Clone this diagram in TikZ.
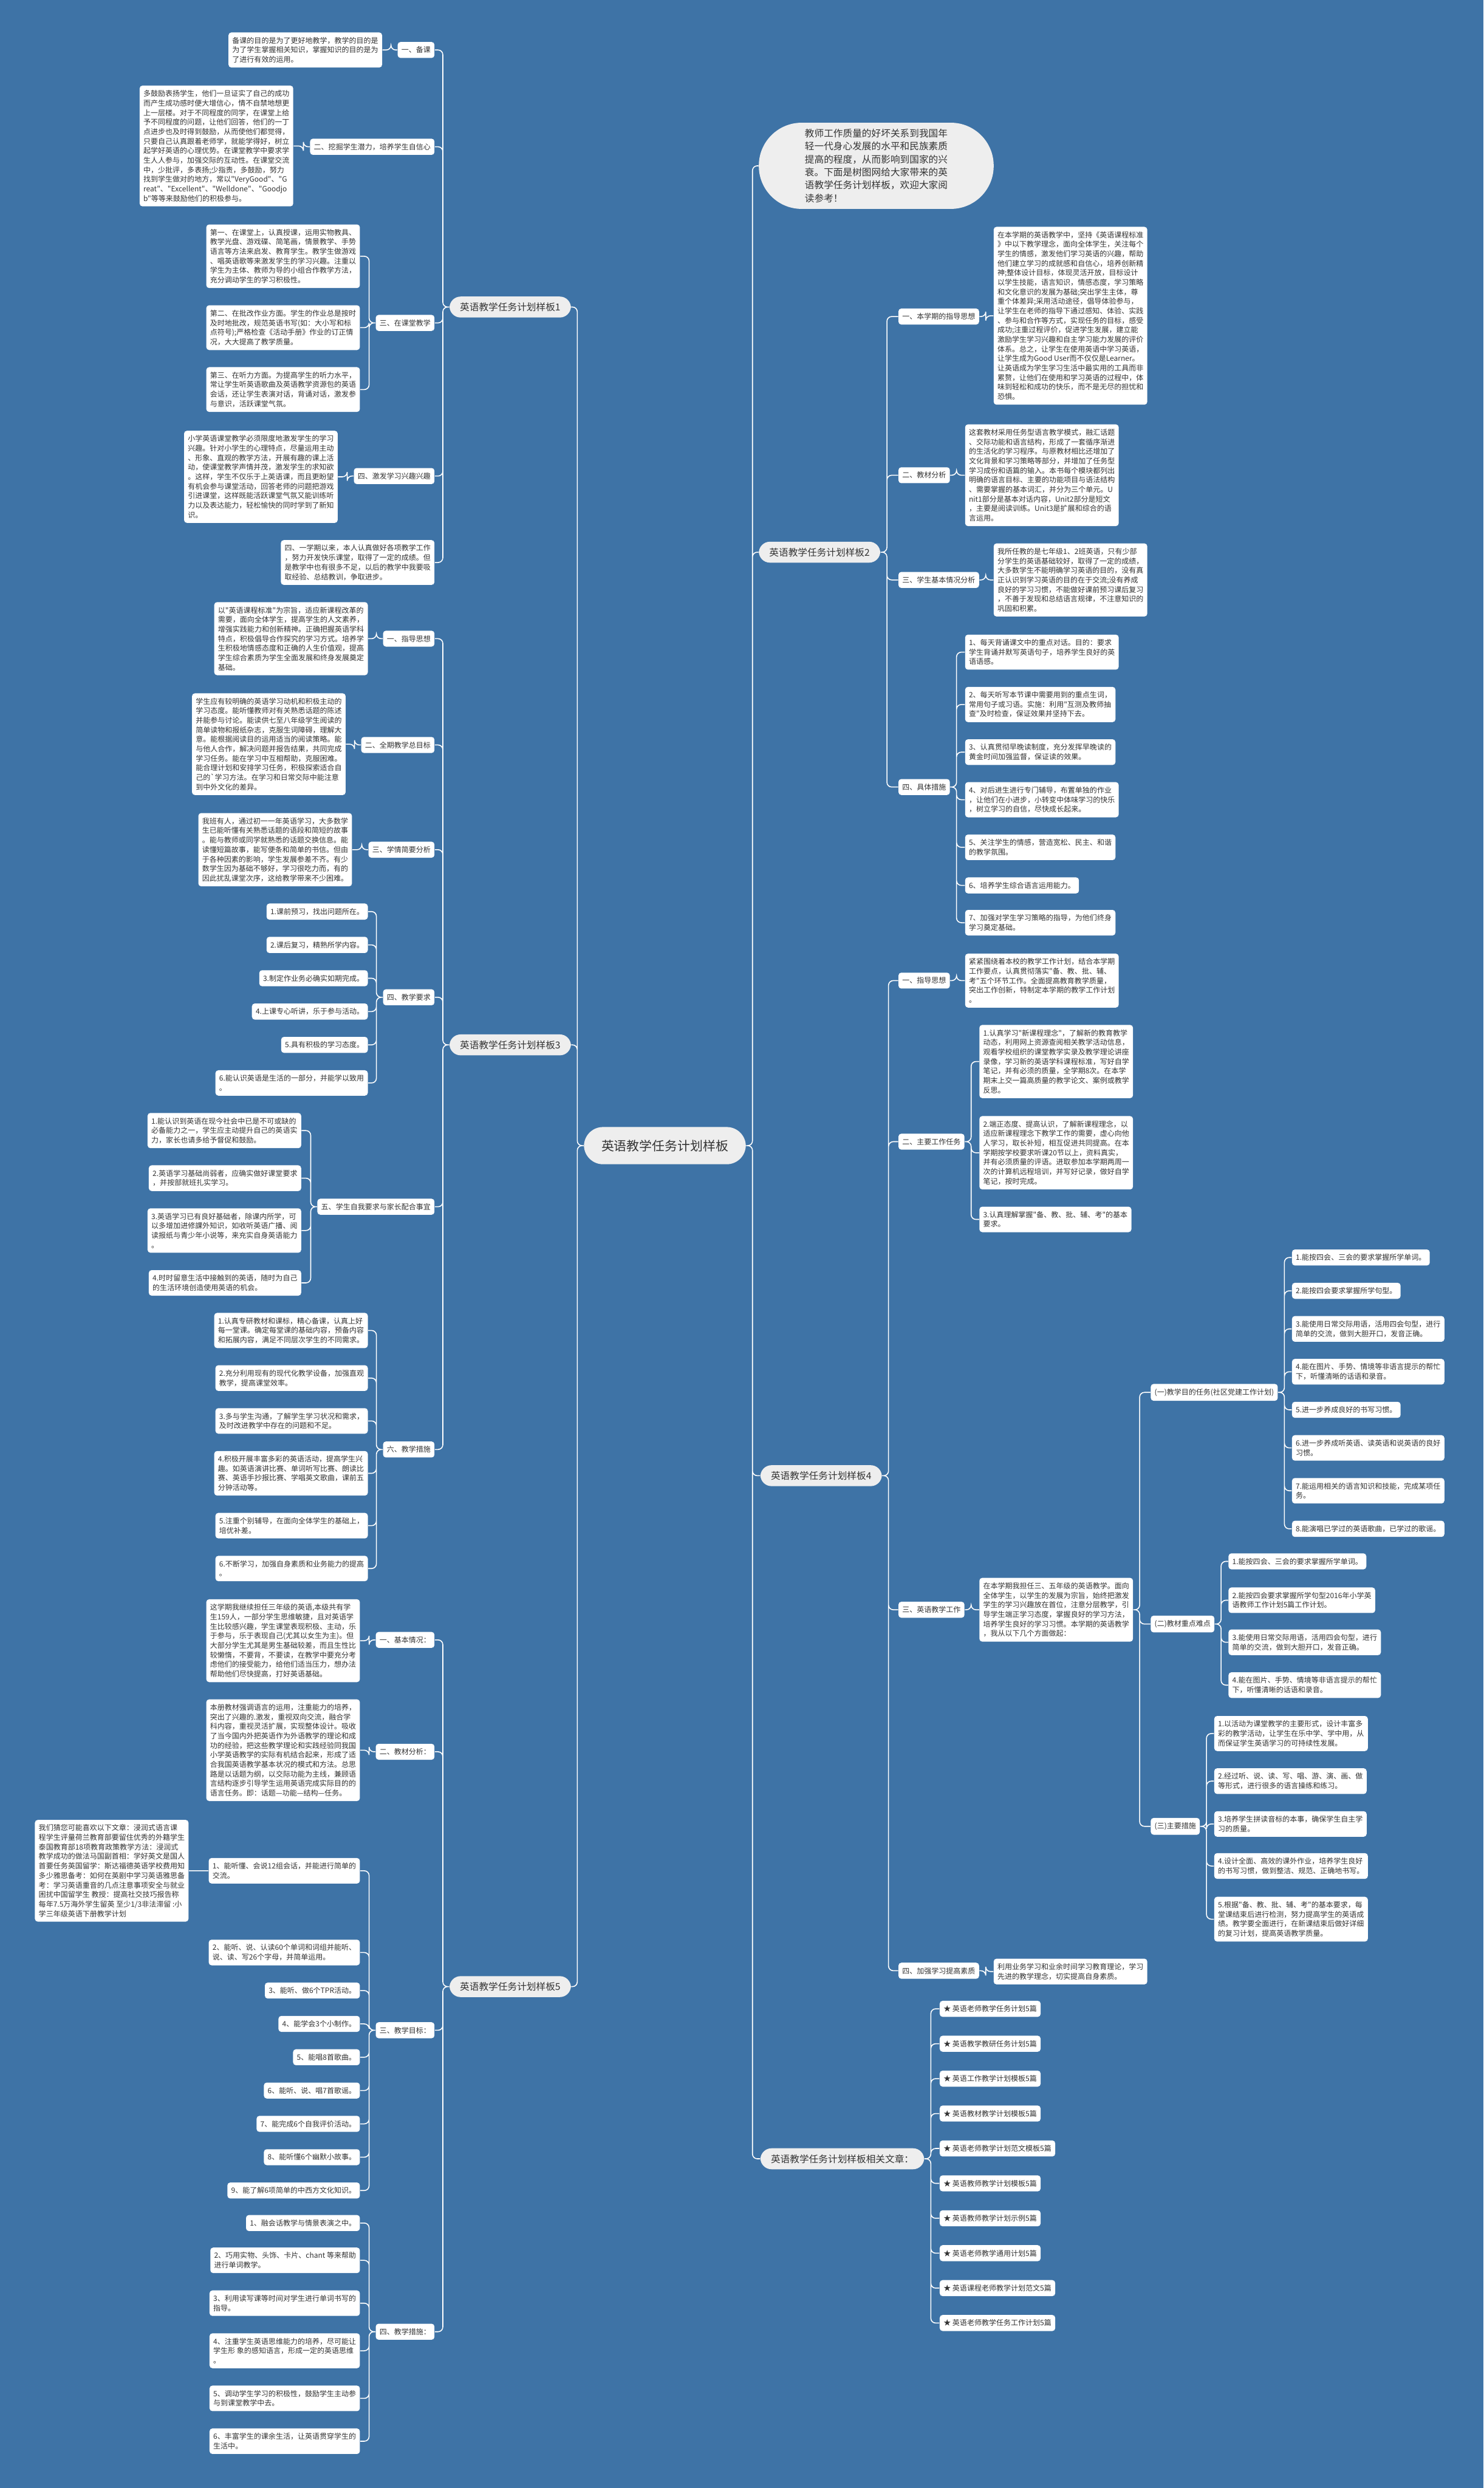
\documentclass[tikz,border=0pt]{standalone}
\usepackage{fontspec}
\setmainfont{Noto Sans CJK SC}[Ligatures=TeXOff]
\definecolor{bgblue}{RGB}{62,115,166}
\definecolor{ink}{RGB}{51,51,51}
\definecolor{pillgray}{RGB}{238,238,238}

\begin{document}
\begin{tikzpicture}[x=1pt,y=-1pt]
  \tikzset{
    box/.style={fill=white,rounded corners=1.8pt,align=left,text=ink,
      font=\fontsize{4.6}{6}\selectfont,inner xsep=2.4pt,inner ysep=2.9pt},
    plan/.style={fill=pillgray,rounded corners=7pt,text=ink,
      font=\fontsize{6}{7.2}\selectfont,inner xsep=6.6pt,inner ysep=3.8pt},
    hub/.style={fill=pillgray,rounded corners=12pt,text=ink,
      font=\fontsize{8}{9.6}\selectfont,inner xsep=11pt,inner ysep=8pt},
    intro/.style={fill=pillgray,rounded corners=27pt,text=ink,align=left,
      font=\fontsize{6}{8.15}\selectfont,inner xsep=29pt,inner ysep=4pt},
    edgeln/.style={draw=white,line width=0.6pt,rounded corners=3pt},
    lnkl/.style={to path={-- ++(-4pt,0) |- (\tikztotarget)}},
    lnkr/.style={to path={-- ++(4pt,0) |- (\tikztotarget)}}
  }
  \fill[bgblue] (0,0) rectangle (935,1568);

  \node[hub] (hub) at (419,722) {英语教学任务计划样板};

  \node[intro,anchor=west] (intro) at (478,104.5) {教师工作质量的好坏关系到我国年\\轻一代身心发展的水平和民族素质\\提高的程度，从而影响到国家的兴\\衰。下面是树图网给大家带来的英\\语教学任务计划样板，欢迎大家阅\\读参考！};
  \node[plan,anchor=east] (plan1) at (360,193.5) {英语教学任务计划样板1};
  \node[plan,anchor=west] (plan2) at (478,348) {英语教学任务计划样板2};
  \node[plan,anchor=east] (plan3) at (360,658.5) {英语教学任务计划样板3};
  \node[plan,anchor=west] (plan4) at (479,930) {英语教学任务计划样板4};
  \node[plan,anchor=east] (plan5) at (360,1252) {英语教学任务计划样板5};
  \node[plan,anchor=west] (rel) at (479,1360.5) {英语教学任务计划样板相关文章：};

  \node[box,anchor=east] (p1a) at (274,31.5) {一、备课};
  \node[box,anchor=east] (p1a1) at (241,31.5) {备课的目的是为了更好地教学，教学的目的是\\为了学生掌握相关知识，掌握知识的目的是为\\了进行有效的运用。};
  \node[box,anchor=east] (p1b) at (274,92.5) {二、挖掘学生潜力，培养学生自信心};
  \node[box,anchor=east] (p1b1) at (185,92) {多鼓励表扬学生，他们一旦证实了自己的成功\\而产生成功感时便大增信心，情不自禁地想更\\上一层楼。对于不同程度的同学，在课堂上给\\予不同程度的问题，让他们回答，他们的一丁\\点进步也及时得到鼓励，从而使他们都觉得，\\只要自己认真跟着老师学，就能学得好，树立\\起学好英语的心理优势。在课堂教学中要求学\\生人人参与，加强交际的互动性。在课堂交流\\中，少批评，多表扬;少指责，多鼓励，努力\\找到学生做对的地方，常以"VeryGood"、"G\\reat"、"Excellent"、"Welldone"、"Goodjo\\b"等等来鼓励他们的积极参与。};
  \node[box,anchor=east] (p1c) at (274,203.5) {三、在课堂教学};
  \node[box,anchor=east] (p1c1) at (227,161.5) {第一、在课堂上，认真授课，运用实物教具、\\教学光盘、游戏碟、简笔画，情景教学、手势\\语言等方法来启发、教育学生。教学生做游戏\\、唱英语歌等来激发学生的学习兴趣。注重以\\学生为主体、教师为导的小组合作教学方法，\\充分调动学生的学习积极性。};
  \node[box,anchor=east] (p1c2) at (227,206.5) {第二、在批改作业方面。学生的作业总是按时\\及时地批改，规范英语书写(如：大小写和标\\点符号);严格检查《活动手册》作业的订正情\\况，大大提高了教学质量。};
  \node[box,anchor=east] (p1c3) at (227,245.5) {第三、在听力方面。为提高学生的听力水平，\\常让学生听英语歌曲及英语教学资源包的英语\\会话，还让学生表演对话，背诵对话，激发参\\与意识，活跃课堂气氛。};
  \node[box,anchor=east] (p1d) at (274,300) {四、激发学习兴趣兴趣};
  \node[box,anchor=east] (p1d1) at (213,300.5) {小学英语课堂教学必须限度地激发学生的学习\\兴趣。针对小学生的心理特点，尽量运用主动\\、形象、直观的教学方法，开展有趣的课上活\\动，使课堂教学声情并茂，激发学生的求知欲\\。这样，学生不仅乐于上英语课，而且更盼望\\有机会参与课堂活动，回答老师的问题把游戏\\引进课堂，这样既能活跃课堂气氛又能训练听\\力以及表达能力，轻松愉快的同时学到了新知\\识。};
  \node[box,anchor=east] (p1e) at (274,354.5) {四、一学期以来，本人认真做好各项教学工作\\，努力开发快乐课堂，取得了一定的成绩。但\\是教学中也有很多不足，以后的教学中我要吸\\取经验、总结教训，争取进步。};

  \node[box,anchor=east] (p3a) at (274,402.5) {一、指导思想};
  \node[box,anchor=east] (p3a1) at (232,402.5) {以"英语课程标准"为宗旨，适应新课程改革的\\需要，面向全体学生，提高学生的人文素养，\\增强实践能力和创新精神。正确把握英语学科\\特点，积极倡导合作探究的学习方式。培养学\\生积极地情感态度和正确的人生价值观，提高\\学生综合素质为学生全面发展和终身发展奠定\\基础。};
  \node[box,anchor=east] (p3b) at (274,469.5) {二、全期教学总目标};
  \node[box,anchor=east] (p3b1) at (218,469) {学生应有较明确的英语学习动机和积极主动的\\学习态度。能听懂教师对有关熟悉话题的陈述\\并能参与讨论。能读供七至八年级学生阅读的\\简单读物和报纸杂志，克服生词障碍，理解大\\意。能根据阅读目的运用适当的阅读策略。能\\与他人合作，解决问题并报告结果，共同完成\\学习任务。能在学习中互相帮助，克服困难。\\能合理计划和安排学习任务，积极探索适合自\\己的\textasciigrave 学习方法。在学习和日常交际中能注意\\到中外文化的差异。};
  \node[box,anchor=east] (p3c) at (274,535.5) {三、学情简要分析};
  \node[box,anchor=east] (p3c1) at (222,535.5) {我班有人，通过初一一年英语学习，大多数学\\生已能听懂有关熟悉话题的语段和简短的故事\\。能与教师或同学就熟悉的话题交换信息。能\\读懂短篇故事，能写便条和简单的书信。但由\\于各种因素的影响，学生发展参差不齐。有少\\数学生因为基础不够好，学习很吃力而，有的\\因此扰乱课堂次序，这给教学带来不少困难。};
  \node[box,anchor=east] (p3d) at (274,628.5) {四、教学要求};
  \node[box,anchor=east] (p3d1) at (232,574.5) {1.课前预习，找出问题所在。};
  \node[box,anchor=east] (p3d2) at (232,595.5) {2.课后复习，精熟所学内容。};
  \node[box,anchor=east] (p3d3) at (232,616.5) {3.制定作业务必确实如期完成。};
  \node[box,anchor=east] (p3d4) at (232,637.5) {4.上课专心听讲，乐于参与活动。};
  \node[box,anchor=east] (p3d5) at (232,658.5) {5.具有积极的学习态度。};
  \node[box,anchor=east] (p3d6) at (232,682.5) {6.能认识英语是生活的一部分，并能学以致用\\。};
  \node[box,anchor=east] (p3e) at (274,760.5) {五、学生自我要求与家长配合事宜};
  \node[box,anchor=east] (p3e1) at (190,712.5) {1.能认识到英语在现今社会中已是不可或缺的\\必备能力之一，学生应主动提升自己的英语实\\力，家长也请多给予督促和鼓励。};
  \node[box,anchor=east] (p3e2) at (190,742.5) {2.英语学习基础尚弱者，应确实做好课堂要求\\，并按部就班扎实学习。};
  \node[box,anchor=east] (p3e3) at (190,775.5) {3.英语学习已有良好基础者，除课内所学，可\\以多增加进修課外知识，如收听英语广播、阅\\读报纸与青少年小说等，来充实自身英语能力\\。};
  \node[box,anchor=east] (p3e4) at (190,808.5) {4.时时留意生活中接触到的英语，随时为自己\\的生活环境创造使用英语的机会。};
  \node[box,anchor=east] (p3f) at (274,913.5) {六、教学措施};
  \node[box,anchor=east] (p3f1) at (232,838.5) {1.认真专研教材和课标，精心备课，认真上好\\每一堂课。确定每堂课的基础内容，预备内容\\和拓展内容，满足不同层次学生的不同需求。};
  \node[box,anchor=east] (p3f2) at (232,868.5) {2.充分利用现有的现代化教学设备，加强直观\\教学，提高课堂效率。};
  \node[box,anchor=east] (p3f3) at (232,895.5) {3.多与学生沟通，了解学生学习状况和需求，\\及时改进教学中存在的问题和不足。};
  \node[box,anchor=east] (p3f4) at (232,928.5) {4.积极开展丰富多彩的英语活动，提高学生兴\\趣。如英语演讲比赛、单词听写比赛、朗读比\\赛、英语手抄报比赛、学唱英文歌曲，课前五\\分钟活动等。};
  \node[box,anchor=east] (p3f5) at (232,961.5) {5.注重个别辅导，在面向全体学生的基础上，\\培优补差。};
  \node[box,anchor=east] (p3f6) at (232,988.5) {6.不断学习，加强自身素质和业务能力的提高\\。};

  \node[box,anchor=east] (p5a) at (274,1033.5) {一、基本情况：};
  \node[box,anchor=east] (p5a1) at (227,1034) {这学期我继续担任三年级的英语,本级共有学\\生159人，一部分学生思维敏捷，且对英语学\\生比较感兴趣，学生课堂表现积极、主动，乐\\于参与，乐于表现自己(尤其以女生为主)。但\\大部分学生尤其是男生基础较差，而且生性比\\较懒惰，不要背，不要读，在教学中要充分考\\虑他们的接受能力，给他们适当压力，想办法\\帮助他们尽快提高，打好英语基础。};
  \node[box,anchor=east] (p5b) at (274,1104) {二、教材分析：};
  \node[box,anchor=east] (p5b1) at (227,1103) {本册教材强调语言的运用，注重能力的培养，\\突出了兴趣的.激发，重视双向交流，融合学\\科内容，重视灵活扩展，实现整体设计。吸收\\了当今国内外把英语作为外语教学的理论和成\\功的经验，把这些教学理论和实践经验同我国\\小学英语教学的实际有机结合起来，形成了适\\合我国英语教学基本状况的模式和方法。总思\\路是以话题为纲，以交际功能为主线，兼顾语\\言结构逐步引导学生运用英语完成实际目的的\\语言任务。即：话题—功能—结构—任务。};
  \node[box,anchor=east] (p5c) at (274,1279.5) {三、教学目标：};
  \node[box,anchor=east] (p5c1) at (227,1179) {1、能听懂、会说12组会话，并能进行简单的\\交流。};
  \node[box,anchor=east] (p5c2) at (227,1230.5) {2、能听、说、认读60个单词和词组并能听、\\说、读、写26个字母，并简单运用。};
  \node[box,anchor=east] (p5c3) at (227,1254.5) {3、能听、做6个TPR活动。};
  \node[box,anchor=east] (p5c4) at (227,1275.5) {4、能学会3个小制作。};
  \node[box,anchor=east] (p5c5) at (227,1296.5) {5、能唱8首歌曲。};
  \node[box,anchor=east] (p5c6) at (227,1317.5) {6、能听、说、唱7首歌谣。};
  \node[box,anchor=east] (p5c7) at (227,1338.5) {7、能完成6个自我评价活动。};
  \node[box,anchor=east] (p5c8) at (227,1359.5) {8、能听懂6个幽默小故事。};
  \node[box,anchor=east] (p5c9) at (227,1380.5) {9、能了解6项简单的中西方文化知识。};
  \node[box,anchor=east] (p5x) at (119,1179) {我们猜您可能喜欢以下文章：浸润式语言课\\程学生评量荷兰教育部要留住优秀的外籍学生\\泰国教育部18项教育政策教学方法：浸润式\\教学成功的做法马国副首相：学好英文是国人\\首要任务英国留学：斯达福德英语学校费用知\\多少雅思备考：如何在英剧中学习英语雅思备\\考：学习英语重音的几点注意事项安全与就业\\困扰中国留学生 教授：提高社交技巧报告称\\每年7.5万海外学生留英 至少1/3非法滞留 :小\\学三年级英语下册教学计划};
  \node[box,anchor=east] (p5d) at (274,1469.5) {四、教学措施：};
  \node[box,anchor=east] (p5d1) at (227,1401) {1、融会话教学与情景表演之中。};
  \node[box,anchor=east] (p5d2) at (227,1424.5) {2、巧用实物、头饰、卡片、chant 等来帮助\\进行单词教学。};
  \node[box,anchor=east] (p5d3) at (227,1451.5) {3、利用读写课等时间对学生进行单词书写的\\指导。};
  \node[box,anchor=east] (p5d4) at (227,1481.5) {4、注重学生英语思维能力的培养，尽可能让\\学生形 象的感知语言，形成一定的英语思维\\。};
  \node[box,anchor=east] (p5d5) at (227,1511.5) {5、调动学生学习的积极性，鼓励学生主动参\\与到课堂教学中去。};
  \node[box,anchor=east] (p5d6) at (227,1538.5) {6、丰富学生的课余生活，让英语贯穿学生的\\生活中。};

  \node[box,anchor=west] (p2a) at (566,199.5) {一、本学期的指导思想};
  \node[box,anchor=west] (p2a1) at (626,199) {在本学期的英语教学中，坚持《英语课程标准\\》中以下教学理念，面向全体学生，关注每个\\学生的情感，激发他们学习英语的兴趣，帮助\\他们建立学习的成就感和自信心，培养创新精\\神;整体设计目标，体现灵活开放，目标设计\\以学生技能，语言知识，情感态度，学习策略\\和文化意识的发展为基础;突出学生主体，尊\\重个体差异;采用活动途径，倡导体验参与，\\让学生在老师的指导下通过感知、体验、实践\\、参与和合作等方式，实现任务的目标，感受\\成功;注重过程评价，促进学生发展，建立能\\激励学生学习兴趣和自主学习能力发展的评价\\体系。总之，让学生在使用英语中学习英语，\\让学生成为Good User而不仅仅是Learner。\\让英语成为学生学习生活中最实用的工具而非\\累赘，让他们在使用和学习英语的过程中，体\\味到轻松和成功的快乐，而不是无尽的担忧和\\恐惧。};
  \node[box,anchor=west] (p2b) at (566,299.5) {二、教材分析};
  \node[box,anchor=west] (p2b1) at (608,299.5) {这套教材采用任务型语言教学模式，融汇话题\\、交际功能和语言结构，形成了一套循序渐进\\的生活化的学习程序。与原教材相比还增加了\\文化背景和学习策略等部分，并增加了任务型\\学习成份和语篇的输入。本书每个模块都列出\\明确的语言目标、主要的功能项目与语法结构\\、需要掌握的基本词汇，并分为三个单元。U\\nit1部分是基本对话内容，Unit2部分是短文\\，主要是阅读训练。Unit3是扩展和综合的语\\言运用。};
  \node[box,anchor=west] (p2c) at (566,365.5) {三、学生基本情况分析};
  \node[box,anchor=west] (p2c1) at (626,365.5) {我所任教的是七年级1、2班英语，只有少部\\分学生的英语基础较好，取得了一定的成绩，\\大多数学生不能明确学习英语的目的，没有真\\正认识到学习英语的目的在于交流;没有养成\\良好的学习习惯，不能做好课前预习课后复习\\，不善于发现和总结语言规律，不注意知识的\\巩固和积累。};
  \node[box,anchor=west] (p2d) at (566,496) {四、具体措施};
  \node[box,anchor=west] (p2d1) at (608,411) {1、每天背诵课文中的重点对话。目的：要求\\学生背诵并默写英语句子，培养学生良好的英\\语语感。};
  \node[box,anchor=west] (p2d2) at (608,444) {2、每天听写本节课中需要用到的重点生词，\\常用句子或习语。实施：利用"互测及教师抽\\查"及时检查，保证效果并坚持下去。};
  \node[box,anchor=west] (p2d3) at (608,474) {3、认真贯彻早晚读制度，充分发挥早晚读的\\黄金时间加强监督，保证读的效果。};
  \node[box,anchor=west] (p2d4) at (608,504) {4、对后进生进行专门辅导，布置单独的作业\\，让他们在小进步，小转变中体味学习的快乐\\，树立学习的自信，尽快成长起来。};
  \node[box,anchor=west] (p2d5) at (608,534) {5、关注学生的情感，营造宽松、民主、和谐\\的教学氛围。};
  \node[box,anchor=west] (p2d6) at (608,558) {6、培养学生综合语言运用能力。};
  \node[box,anchor=west] (p2d7) at (608,581.5) {7、加强对学生学习策略的指导，为他们终身\\学习奠定基础。};

  \node[box,anchor=west] (p4a) at (566,618) {一、指导思想};
  \node[box,anchor=west] (p4a1) at (608,618) {紧紧围绕着本校的教学工作计划，结合本学期\\工作要点，认真贯彻落实"备、教、批、辅、\\考"五个环节工作。全面提高教育教学质量，\\突出工作创新，特制定本学期的教学工作计划\\。};
  \node[box,anchor=west] (p4b) at (566,719.5) {二、主要工作任务};
  \node[box,anchor=west] (p4b1) at (617,669) {1.认真学习"新课程理念"，了解新的教育教学\\动态，利用网上资源查阅相关教学活动信息，\\观看学校组织的课堂教学实录及教学理论讲座\\录像，学习新的英语学科课程标准，写好自学\\笔记，并有必须的质量，全学期8次。在本学\\期末上交一篇高质量的教学论文、案例或教学\\反思。};
  \node[box,anchor=west] (p4b2) at (617,726.5) {2.端正态度、提高认识，了解新课程理念，以\\适应新课程理念下教学工作的需要，虚心向他\\人学习，取长补短，相互促进共同提高。在本\\学期按学校要求听课20节以上，资料真实，\\并有必须质量的评语。进取参加本学期两周一\\次的计算机远程培训，并写好记录，做好自学\\笔记，按时完成。};
  \node[box,anchor=west] (p4b3) at (617,768.5) {3.认真理解掌握"备、教、批、辅、考"的基本\\要求。};
  \node[box,anchor=west] (p4c) at (566,1014.5) {三、英语教学工作};
  \node[box,anchor=west] (p4c1) at (617,1014.5) {在本学期我担任三、五年级的英语教学。面向\\全体学生，以学生的发展为宗旨，始终把激发\\学生的学习兴趣放在首位，注意分层教学，引\\导学生端正学习态度，掌握良好的学习方法，\\培养学生良好的学习习惯。本学期的英语教学\\，我从以下几个方面做起：};
  \node[box,anchor=west] (p4ca) at (725,877.5) {(一)教学目的任务(社区党建工作计划)};
  \node[box,anchor=west] (p4ca1) at (814,792.5) {1.能按四会、三会的要求掌握所学单词。};
  \node[box,anchor=west] (p4ca2) at (814,813.5) {2.能按四会要求掌握所学句型。};
  \node[box,anchor=west] (p4ca3) at (814,837.5) {3.能使用日常交际用语，活用四会句型，进行\\简单的交流，做到大胆开口，发音正确。};
  \node[box,anchor=west] (p4ca4) at (814,864.5) {4.能在图片、手势、情境等非语言提示的帮忙\\下，听懂清晰的话语和录音。};
  \node[box,anchor=west] (p4ca5) at (814,888.5) {5.进一步养成良好的书写习惯。};
  \node[box,anchor=west] (p4ca6) at (814,912.5) {6.进一步养成听英语、读英语和说英语的良好\\习惯。};
  \node[box,anchor=west] (p4ca7) at (814,939.5) {7.能运用相关的语言知识和技能，完成某项任\\务。};
  \node[box,anchor=west] (p4ca8) at (814,963.5) {8.能演唱已学过的英语歌曲，已学过的歌谣。};
  \node[box,anchor=west] (p4cb) at (725,1023.5) {(二)教材重点难点};
  \node[box,anchor=west] (p4cb1) at (774,984) {1.能按四会、三会的要求掌握所学单词。};
  \node[box,anchor=west] (p4cb2) at (774,1008.5) {2.能按四会要求掌握所学句型2016年小学英\\语教师工作计划5篇工作计划。};
  \node[box,anchor=west] (p4cb3) at (774,1035) {3.能使用日常交际用语，活用四会句型，进行\\简单的交流，做到大胆开口，发音正确。};
  \node[box,anchor=west] (p4cb4) at (774,1062) {4.能在图片、手势、情境等非语言提示的帮忙\\下，听懂清晰的话语和录音。};
  \node[box,anchor=west] (p4cc) at (725,1151) {(三)主要措施};
  \node[box,anchor=west] (p4cc1) at (765,1092.5) {1.以活动为课堂教学的主要形式，设计丰富多\\彩的教学活动，让学生在乐中学、学中用，从\\而保证学生英语学习的可持续性发展。};
  \node[box,anchor=west] (p4cc2) at (765,1122.5) {2.经过听、说、读、写、唱、游、演、画、做\\等形式，进行很多的语言操练和练习。};
  \node[box,anchor=west] (p4cc3) at (765,1149.5) {3.培养学生拼读音标的本事，确保学生自主学\\习的质量。};
  \node[box,anchor=west] (p4cc4) at (765,1176) {4.设计全面、高效的课外作业，培养学生良好\\的书写习惯，做到整洁、规范、正确地书写。};
  \node[box,anchor=west] (p4cc5) at (765,1209.5) {5.根据"备、教、批、辅、考"的基本要求，每\\堂课结束后进行检测，努力提高学生的英语成\\绩。教学要全面进行，在新课结束后做好详细\\的复习计划，提高英语教学质量。};
  \node[box,anchor=west] (p4d) at (566,1242) {四、加强学习提高素质};
  \node[box,anchor=west] (p4d1) at (626,1242.5) {利用业务学习和业余时间学习教育理论，学习\\先进的教学理念，切实提高自身素质。};

  \node[box,anchor=west] (r1) at (592,1266) {★ 英语老师教学任务计划5篇};
  \node[box,anchor=west] (r2) at (592,1288) {★ 英语教学教研任务计划5篇};
  \node[box,anchor=west] (r3) at (592,1310) {★ 英语工作教学计划模板5篇};
  \node[box,anchor=west] (r4) at (592,1332) {★ 英语教材教学计划模板5篇};
  \node[box,anchor=west] (r5) at (592,1354) {★ 英语老师教学计划范文模板5篇};
  \node[box,anchor=west] (r6) at (592,1376) {★ 英语教师教学计划模板5篇};
  \node[box,anchor=west] (r7) at (592,1398) {★ 英语教师教学计划示例5篇};
  \node[box,anchor=west] (r8) at (592,1420) {★ 英语老师教学通用计划5篇};
  \node[box,anchor=west] (r9) at (592,1442) {★ 英语课程老师教学计划范文5篇};
  \node[box,anchor=west] (r10) at (592,1464) {★ 英语老师教学任务工作计划5篇};

  \draw[edgeln] (hub.west) to[lnkl] (plan1.east) (hub.west) to[lnkl] (plan3.east) (hub.west) to[lnkl] (plan5.east);
  \draw[edgeln] (hub.east) to[lnkr] (intro.west) (hub.east) to[lnkr] (plan2.west) (hub.east) to[lnkr] (plan4.west) (hub.east) to[lnkr] (rel.west);

  \draw[edgeln] (plan1.west) to[lnkl] (p1a.east) (plan1.west) to[lnkl] (p1b.east) (plan1.west) to[lnkl] (p1c.east) (plan1.west) to[lnkl] (p1d.east) (plan1.west) to[lnkl] (p1e.east);
  \draw[edgeln] (p1a.west) to[lnkl] (p1a1.east) (p1b.west) to[lnkl] (p1b1.east) (p1d.west) to[lnkl] (p1d1.east);
  \draw[edgeln] (p1c.west) to[lnkl] (p1c1.east) (p1c.west) to[lnkl] (p1c2.east) (p1c.west) to[lnkl] (p1c3.east);

  \draw[edgeln] (plan3.west) to[lnkl] (p3a.east) (plan3.west) to[lnkl] (p3b.east) (plan3.west) to[lnkl] (p3c.east) (plan3.west) to[lnkl] (p3d.east) (plan3.west) to[lnkl] (p3e.east) (plan3.west) to[lnkl] (p3f.east);
  \draw[edgeln] (p3a.west) to[lnkl] (p3a1.east) (p3b.west) to[lnkl] (p3b1.east) (p3c.west) to[lnkl] (p3c1.east);
  \draw[edgeln] (p3d.west) to[lnkl] (p3d1.east) (p3d.west) to[lnkl] (p3d2.east) (p3d.west) to[lnkl] (p3d3.east) (p3d.west) to[lnkl] (p3d4.east) (p3d.west) to[lnkl] (p3d5.east) (p3d.west) to[lnkl] (p3d6.east);
  \draw[edgeln] (p3e.west) to[lnkl] (p3e1.east) (p3e.west) to[lnkl] (p3e2.east) (p3e.west) to[lnkl] (p3e3.east) (p3e.west) to[lnkl] (p3e4.east);
  \draw[edgeln] (p3f.west) to[lnkl] (p3f1.east) (p3f.west) to[lnkl] (p3f2.east) (p3f.west) to[lnkl] (p3f3.east) (p3f.west) to[lnkl] (p3f4.east) (p3f.west) to[lnkl] (p3f5.east) (p3f.west) to[lnkl] (p3f6.east);

  \draw[edgeln] (plan5.west) to[lnkl] (p5a.east) (plan5.west) to[lnkl] (p5b.east) (plan5.west) to[lnkl] (p5c.east) (plan5.west) to[lnkl] (p5d.east);
  \draw[edgeln] (p5a.west) to[lnkl] (p5a1.east) (p5b.west) to[lnkl] (p5b1.east) (p5c1.west) -- (p5x.east);
  \draw[edgeln] (p5c.west) to[lnkl] (p5c1.east) (p5c.west) to[lnkl] (p5c2.east) (p5c.west) to[lnkl] (p5c3.east) (p5c.west) to[lnkl] (p5c4.east) (p5c.west) to[lnkl] (p5c5.east) (p5c.west) to[lnkl] (p5c6.east) (p5c.west) to[lnkl] (p5c7.east) (p5c.west) to[lnkl] (p5c8.east) (p5c.west) to[lnkl] (p5c9.east);
  \draw[edgeln] (p5d.west) to[lnkl] (p5d1.east) (p5d.west) to[lnkl] (p5d2.east) (p5d.west) to[lnkl] (p5d3.east) (p5d.west) to[lnkl] (p5d4.east) (p5d.west) to[lnkl] (p5d5.east) (p5d.west) to[lnkl] (p5d6.east);

  \draw[edgeln] (plan2.east) to[lnkr] (p2a.west) (plan2.east) to[lnkr] (p2b.west) (plan2.east) to[lnkr] (p2c.west) (plan2.east) to[lnkr] (p2d.west);
  \draw[edgeln] (p2a.east) to[lnkr] (p2a1.west) (p2b.east) to[lnkr] (p2b1.west) (p2c.east) to[lnkr] (p2c1.west);
  \draw[edgeln] (p2d.east) to[lnkr] (p2d1.west) (p2d.east) to[lnkr] (p2d2.west) (p2d.east) to[lnkr] (p2d3.west) (p2d.east) to[lnkr] (p2d4.west) (p2d.east) to[lnkr] (p2d5.west) (p2d.east) to[lnkr] (p2d6.west) (p2d.east) to[lnkr] (p2d7.west);

  \draw[edgeln] (plan4.east) to[lnkr] (p4a.west) (plan4.east) to[lnkr] (p4b.west) (plan4.east) to[lnkr] (p4c.west) (plan4.east) to[lnkr] (p4d.west);
  \draw[edgeln] (p4a.east) to[lnkr] (p4a1.west) (p4c.east) to[lnkr] (p4c1.west) (p4d.east) to[lnkr] (p4d1.west);
  \draw[edgeln] (p4b.east) to[lnkr] (p4b1.west) (p4b.east) to[lnkr] (p4b2.west) (p4b.east) to[lnkr] (p4b3.west);
  \draw[edgeln] (p4c1.east) to[lnkr] (p4ca.west) (p4c1.east) to[lnkr] (p4cb.west) (p4c1.east) to[lnkr] (p4cc.west);
  \draw[edgeln] (p4ca.east) to[lnkr] (p4ca1.west) (p4ca.east) to[lnkr] (p4ca2.west) (p4ca.east) to[lnkr] (p4ca3.west) (p4ca.east) to[lnkr] (p4ca4.west) (p4ca.east) to[lnkr] (p4ca5.west) (p4ca.east) to[lnkr] (p4ca6.west) (p4ca.east) to[lnkr] (p4ca7.west) (p4ca.east) to[lnkr] (p4ca8.west);
  \draw[edgeln] (p4cb.east) to[lnkr] (p4cb1.west) (p4cb.east) to[lnkr] (p4cb2.west) (p4cb.east) to[lnkr] (p4cb3.west) (p4cb.east) to[lnkr] (p4cb4.west);
  \draw[edgeln] (p4cc.east) to[lnkr] (p4cc1.west) (p4cc.east) to[lnkr] (p4cc2.west) (p4cc.east) to[lnkr] (p4cc3.west) (p4cc.east) to[lnkr] (p4cc4.west) (p4cc.east) to[lnkr] (p4cc5.west);

  \draw[edgeln] (rel.east) to[lnkr] (r1.west) (rel.east) to[lnkr] (r2.west) (rel.east) to[lnkr] (r3.west) (rel.east) to[lnkr] (r4.west) (rel.east) to[lnkr] (r5.west) (rel.east) to[lnkr] (r6.west) (rel.east) to[lnkr] (r7.west) (rel.east) to[lnkr] (r8.west) (rel.east) to[lnkr] (r9.west) (rel.east) to[lnkr] (r10.west);
\end{tikzpicture}
\end{document}
